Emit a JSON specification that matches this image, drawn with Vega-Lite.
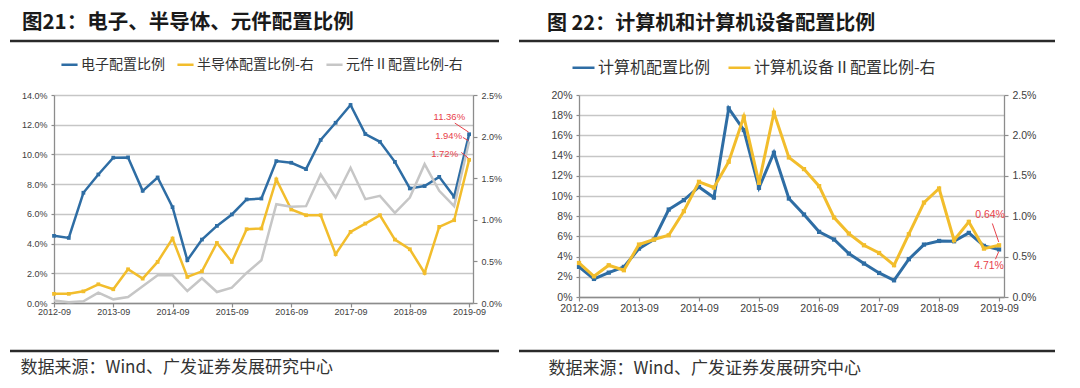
{
  "$schema": "https://vega.github.io/schema/vega-lite/v6.json",
  "background": "white",
  "padding": {"left": 8, "top": 13, "right": 0, "bottom": 0},
  "spacing": 20,
  "bounds": "flush",
  "resolve": {"scale": {"color": "independent"}},
  "datasets": {
    "left": [
      {"d": "2012/09/01", "e": 4.52, "s": 0.11, "c": 0.03},
      {"d": "2012/12/01", "e": 4.38, "s": 0.11, "c": 0.01},
      {"d": "2013/03/01", "e": 7.42, "s": 0.14, "c": 0.02},
      {"d": "2013/06/01", "e": 8.65, "s": 0.225, "c": 0.124},
      {"d": "2013/09/01", "e": 9.78, "s": 0.165, "c": 0.044},
      {"d": "2013/12/01", "e": 9.8, "s": 0.405, "c": 0.072},
      {"d": "2014/03/01", "e": 7.55, "s": 0.293, "c": 0.2},
      {"d": "2014/06/01", "e": 8.45, "s": 0.494, "c": 0.333},
      {"d": "2014/09/01", "e": 6.45, "s": 0.775, "c": 0.333},
      {"d": "2014/12/01", "e": 2.88, "s": 0.313, "c": 0.144},
      {"d": "2015/03/01", "e": 4.27, "s": 0.381, "c": 0.297},
      {"d": "2015/06/01", "e": 5.19, "s": 0.722, "c": 0.132},
      {"d": "2015/09/01", "e": 5.96, "s": 0.494, "c": 0.185},
      {"d": "2015/12/01", "e": 6.97, "s": 0.887, "c": 0.361},
      {"d": "2016/03/01", "e": 7.03, "s": 0.895, "c": 0.514},
      {"d": "2016/06/01", "e": 9.55, "s": 1.485, "c": 1.188},
      {"d": "2016/09/01", "e": 9.44, "s": 1.124, "c": 1.156},
      {"d": "2016/12/01", "e": 9.01, "s": 1.055, "c": 1.164},
      {"d": "2017/03/01", "e": 10.97, "s": 1.055, "c": 1.545},
      {"d": "2017/06/01", "e": 12.13, "s": 0.586, "c": 1.268},
      {"d": "2017/09/01", "e": 13.33, "s": 0.855, "c": 1.625},
      {"d": "2017/12/01", "e": 11.37, "s": 0.955, "c": 1.248},
      {"d": "2018/03/01", "e": 10.85, "s": 1.055, "c": 1.288},
      {"d": "2018/06/01", "e": 9.5, "s": 0.762, "c": 1.083},
      {"d": "2018/09/01", "e": 7.71, "s": 0.646, "c": 1.268},
      {"d": "2018/12/01", "e": 7.87, "s": 0.361, "c": 1.669},
      {"d": "2019/03/01", "e": 8.49, "s": 0.915, "c": 1.348},
      {"d": "2019/06/01", "e": 7.15, "s": 0.995, "c": 1.164},
      {"d": "2019/09/01", "e": 11.36, "s": 1.72, "c": 1.94}
    ],
    "right": [
      {"d": "2012/09/01", "p": 2.98, "q": 0.421},
      {"d": "2012/12/01", "p": 1.79, "q": 0.256},
      {"d": "2013/03/01", "p": 2.41, "q": 0.393},
      {"d": "2013/06/01", "p": 2.98, "q": 0.331},
      {"d": "2013/09/01", "p": 4.79, "q": 0.649},
      {"d": "2013/12/01", "p": 5.69, "q": 0.711},
      {"d": "2014/03/01", "p": 8.66, "q": 0.764},
      {"d": "2014/06/01", "p": 9.59, "q": 1.062},
      {"d": "2014/09/01", "p": 10.9, "q": 1.426},
      {"d": "2014/12/01", "p": 9.85, "q": 1.355},
      {"d": "2015/03/01", "p": 18.68, "q": 1.674},
      {"d": "2015/06/01", "p": 16.53, "q": 2.231},
      {"d": "2015/09/01", "p": 10.81, "q": 1.413},
      {"d": "2015/12/01", "p": 14.28, "q": 2.281},
      {"d": "2016/03/01", "p": 9.75, "q": 1.727},
      {"d": "2016/06/01", "p": 8.17, "q": 1.583},
      {"d": "2016/09/01", "p": 6.45, "q": 1.372},
      {"d": "2016/12/01", "p": 5.69, "q": 0.983},
      {"d": "2017/03/01", "p": 4.3, "q": 0.785},
      {"d": "2017/06/01", "p": 3.31, "q": 0.64},
      {"d": "2017/09/01", "p": 2.38, "q": 0.545},
      {"d": "2017/12/01", "p": 1.65, "q": 0.393},
      {"d": "2018/03/01", "p": 3.74, "q": 0.777},
      {"d": "2018/06/01", "p": 5.19, "q": 1.169},
      {"d": "2018/09/01", "p": 5.55, "q": 1.343},
      {"d": "2018/12/01", "p": 5.52, "q": 0.702},
      {"d": "2019/03/01", "p": 6.35, "q": 0.93},
      {"d": "2019/06/01", "p": 5.06, "q": 0.599},
      {"d": "2019/09/01", "p": 4.71, "q": 0.64}
    ],
    "notes": [
      {"label": "11.36%", "d": "2019/09/01", "v": 11.36},
      {"label": "1.94%", "d": "2019/09/01", "v": 1.94},
      {"label": "1.72%", "d": "2019/09/01", "v": 1.72},
      {"label": "0.64%", "d": "2019/09/01", "v": 0.64},
      {"label": "4.71%", "d": "2019/09/01", "v": 4.71}
    ]
  },
  "hconcat": [
    {
      "width": 489,
      "height": 310,
      "title": {"text": "图21：电子、半导体、元件配置比例", "anchor": "start", "frame": "group", "dx": 12, "offset": -14, "baseline": "bottom", "fontSize": 20.5, "font": "Noto Sans CJK SC", "fontWeight": "bold", "color": "#1a1a1a"},
      "data": {"name": "left"},
      "layer": [
        {
          "layer": [
            {
              "mark": {"type": "line", "strokeWidth": 2.5, "point": {"filled": true, "shape": "square", "size": 14}},
              "encoding": {
                "x": {"field": "d", "type": "temporal",
                  "scale": {"domain": [{"year": 2012, "month": 9, "date": 1}, {"year": 2019, "month": 9, "date": 25}], "range": [44, 463]},
                  "axis": {"values": [{"year": 2012, "month": 9, "date": 1}, {"year": 2013, "month": 9, "date": 1}, {"year": 2014, "month": 9, "date": 1}, {"year": 2015, "month": 9, "date": 1}, {"year": 2016, "month": 9, "date": 1}, {"year": 2017, "month": 9, "date": 1}, {"year": 2018, "month": 9, "date": 1}, {"year": 2019, "month": 9, "date": 1}],
                    "tickCount": 20, "format": "%Y-%m", "offset": -48, "grid": false, "labelFontSize": 9, "tickSize": 4, "labelPadding": 0, "labelFlush": false, "labelOverlap": false,
                    "title": "数据来源：Wind、广发证券发展研究中心", "titleFont": "Noto Sans CJK SC", "titleFontSize": 17, "titleFontWeight": "normal", "titleColor": "#333333", "titleAnchor": "start", "titleAlign": "left", "titleBaseline": "middle", "titleX": 10, "titleY": 64, "titleLimit": 1000}},
                "y": {"field": "e", "type": "quantitative",
                  "scale": {"domain": [0, 14], "range": [262, 54], "nice": false},
                  "axis": {"orient": "left", "offset": -44, "values": [0, 2, 4, 6, 8, 10, 12, 14], "tickCount": 20, "labelExpr": "format(datum.value, '.1f') + '%'", "grid": true, "title": null, "tickSize": 3, "labelPadding": 4, "labelOverlap": false}},
                "color": {"datum": "电子配置比例", "type": "nominal",
                  "scale": {"domain": ["电子配置比例", "半导体配置比例-右", "元件Ⅱ配置比例-右"], "range": ["#2E6DA4", "#F2BD2C", "#C6C6C6"]},
                  "legend": {"orient": "none", "legendX": 50, "legendY": 14, "direction": "horizontal", "title": null, "symbolType": "stroke", "symbolSize": 260, "symbolStrokeWidth": 2.5, "labelFont": "Noto Sans CJK SC", "labelFontSize": 14, "labelColor": "#333333", "labelOffset": 2, "columnPadding": 7, "labelLimit": 300}}
              }
            },
            {
              "data": {"name": "notes"},
              "transform": [{"filter": "datum.label === '11.36%'"}],
              "mark": {"type": "text", "align": "right", "baseline": "middle", "dx": -4, "dy": -17, "fontSize": 9.5, "font": "Liberation Sans", "color": "#E8424A"},
              "encoding": {"x": {"field": "d", "type": "temporal"}, "y": {"field": "v", "type": "quantitative"}, "text": {"field": "label"}}
            },
            {
              "data": {"values": [{}]},
              "mark": {"type": "rule", "color": "#E8424A", "strokeWidth": 1},
              "encoding": {"x": {"datum": {"year": 2019, "month": 6, "date": 5}, "type": "temporal"}, "x2": {"datum": {"year": 2019, "month": 8, "date": 29}}, "y": {"datum": 12.11, "type": "quantitative"}, "y2": {"datum": 11.5}}
            }
          ]
        },
        {
          "layer": [
            {
              "mark": {"type": "line", "strokeWidth": 2.5, "point": {"filled": true, "shape": "square", "size": 14}},
              "encoding": {
                "x": {"field": "d", "type": "temporal"},
                "y": {"field": "s", "type": "quantitative",
                  "scale": {"domain": [0, 2.5], "range": [262, 54], "nice": false},
                  "axis": {"orient": "right", "offset": -26, "values": [0, 0.5, 1, 1.5, 2, 2.5], "tickCount": 20, "labelExpr": "format(datum.value, '.1f') + '%'", "grid": false, "title": null, "tickSize": 4, "labelPadding": 4, "labelOverlap": false}},
                "color": {"datum": "半导体配置比例-右", "type": "nominal"}
              }
            },
            {
              "mark": {"type": "line", "strokeWidth": 2.5},
              "encoding": {
                "x": {"field": "d", "type": "temporal"},
                "y": {"field": "c", "type": "quantitative"},
                "color": {"datum": "元件Ⅱ配置比例-右", "type": "nominal"}
              }
            },
            {
              "data": {"name": "notes"},
              "transform": [{"filter": "datum.label === '1.94%'"}],
              "mark": {"type": "text", "align": "right", "baseline": "middle", "dx": -7, "dy": -6, "fontSize": 9.5, "font": "Liberation Sans", "color": "#E8424A"},
              "encoding": {"x": {"field": "d", "type": "temporal"}, "y": {"field": "v", "type": "quantitative"}, "text": {"field": "label"}}
            },
            {
              "data": {"name": "notes"},
              "transform": [{"filter": "datum.label === '1.72%'"}],
              "mark": {"type": "text", "align": "right", "baseline": "middle", "dx": -11, "dy": -6, "fontSize": 9.5, "font": "Liberation Sans", "color": "#E8424A"},
              "encoding": {"x": {"field": "d", "type": "temporal"}, "y": {"field": "v", "type": "quantitative"}, "text": {"field": "label"}}
            },
            {
              "data": {"values": [{}]},
              "mark": {"type": "rule", "color": "#E8424A", "strokeWidth": 1},
              "encoding": {"x": {"datum": {"year": 2019, "month": 7, "date": 25}, "type": "temporal"}, "x2": {"datum": {"year": 2019, "month": 8, "date": 28}}, "y": {"datum": 1.99, "type": "quantitative"}, "y2": {"datum": 1.95}}
            },
            {
              "data": {"values": [{}]},
              "mark": {"type": "rule", "color": "#E8424A", "strokeWidth": 1},
              "encoding": {"x": {"datum": {"year": 2019, "month": 7, "date": 15}, "type": "temporal"}, "x2": {"datum": {"year": 2019, "month": 8, "date": 28}}, "y": {"datum": 1.81, "type": "quantitative"}, "y2": {"datum": 1.74}}
            }
          ]
        },
        {
          "layer": [
            {
              "data": {"values": [{}]},
              "mark": {"type": "rule", "color": "#2a2a2a", "strokeWidth": 2.5},
              "encoding": {"y": {"datum": 1, "type": "quantitative", "scale": {"domain": [0, 1]}, "axis": null}}
            },
            {
              "data": {"values": [{}]},
              "mark": {"type": "rule", "color": "#2a2a2a", "strokeWidth": 2.5},
              "encoding": {"y": {"datum": 0, "type": "quantitative", "axis": null}}
            }
          ]
        }
      ],
      "resolve": {"scale": {"y": "independent"}, "axis": {"y": "independent"}}
    },
    {
      "width": 536,
      "height": 310,
      "title": {"text": "图 22：计算机和计算机设备配置比例", "anchor": "start", "frame": "group", "dx": 28, "offset": -14, "baseline": "bottom", "fontSize": 20, "font": "Noto Sans CJK SC", "fontWeight": "bold", "color": "#1a1a1a"},
      "data": {"name": "right"},
      "layer": [
        {
          "layer": [
            {
              "mark": {"type": "line", "strokeWidth": 3, "point": {"filled": true, "shape": "square", "size": 18}},
              "encoding": {
                "x": {"field": "d", "type": "temporal",
                  "scale": {"domain": [{"year": 2012, "month": 9, "date": 1}, {"year": 2019, "month": 10, "date": 1}], "range": [60, 485]},
                  "axis": {"values": [{"year": 2012, "month": 9, "date": 1}, {"year": 2013, "month": 9, "date": 1}, {"year": 2014, "month": 9, "date": 1}, {"year": 2015, "month": 9, "date": 1}, {"year": 2016, "month": 9, "date": 1}, {"year": 2017, "month": 9, "date": 1}, {"year": 2018, "month": 9, "date": 1}, {"year": 2019, "month": 9, "date": 1}],
                    "tickCount": 20, "format": "%Y-%m", "offset": -54, "grid": false, "labelFontSize": 10.5, "tickSize": 4, "labelPadding": 2, "labelFlush": false, "labelOverlap": false,
                    "title": "数据来源：Wind、广发证券发展研究中心", "titleFont": "Noto Sans CJK SC", "titleFontSize": 17, "titleFontWeight": "normal", "titleColor": "#333333", "titleAnchor": "start", "titleAlign": "left", "titleBaseline": "middle", "titleX": 29, "titleY": 71, "titleLimit": 1000}},
                "y": {"field": "p", "type": "quantitative",
                  "scale": {"domain": [0, 20], "range": [256, 54], "nice": false},
                  "axis": {"orient": "left", "offset": -60, "values": [0, 2, 4, 6, 8, 10, 12, 14, 16, 18, 20], "tickCount": 20, "labelExpr": "format(datum.value, 'd') + '%'", "grid": true, "title": null, "tickSize": 3, "labelPadding": 4, "labelFontSize": 10.5, "labelOverlap": false}},
                "color": {"datum": "计算机配置比例", "type": "nominal",
                  "scale": {"domain": ["计算机配置比例", "计算机设备Ⅱ配置比例-右"], "range": ["#2E6DA4", "#F2BD2C"]},
                  "legend": {"orient": "none", "legendX": 52, "legendY": 14, "direction": "horizontal", "title": null, "symbolType": "stroke", "symbolSize": 484, "symbolStrokeWidth": 2.5, "labelFont": "Noto Sans CJK SC", "labelFontSize": 16, "labelColor": "#333333", "labelOffset": 2, "columnPadding": 12, "labelLimit": 300}}
              }
            },
            {
              "data": {"name": "notes"},
              "transform": [{"filter": "datum.label === '4.71%'"}],
              "mark": {"type": "text", "align": "center", "baseline": "middle", "dx": -10, "dy": 17, "fontSize": 10.5, "font": "Liberation Sans", "color": "#E8424A"},
              "encoding": {"x": {"field": "d", "type": "temporal"}, "y": {"field": "v", "type": "quantitative"}, "text": {"field": "label"}}
            },
            {
              "data": {"values": [{}]},
              "mark": {"type": "rule", "color": "#E8424A", "strokeWidth": 1},
              "encoding": {"x": {"datum": {"year": 2019, "month": 8, "date": 10}, "type": "temporal"}, "x2": {"datum": {"year": 2019, "month": 8, "date": 30}}, "y": {"datum": 3.74, "type": "quantitative"}, "y2": {"datum": 4.5}}
            }
          ]
        },
        {
          "layer": [
            {
              "mark": {"type": "line", "strokeWidth": 3, "point": {"filled": true, "shape": "square", "size": 18}},
              "encoding": {
                "x": {"field": "d", "type": "temporal"},
                "y": {"field": "q", "type": "quantitative",
                  "scale": {"domain": [0, 2.5], "range": [256, 54], "nice": false},
                  "axis": {"orient": "right", "offset": -51, "values": [0, 0.5, 1, 1.5, 2, 2.5], "tickCount": 20, "labelExpr": "format(datum.value, '.1f') + '%'", "grid": false, "title": null, "tickSize": 4, "labelPadding": 4, "labelFontSize": 10.5, "labelOverlap": false}},
                "color": {"datum": "计算机设备Ⅱ配置比例-右", "type": "nominal"}
              }
            },
            {
              "data": {"name": "notes"},
              "transform": [{"filter": "datum.label === '0.64%'"}],
              "mark": {"type": "text", "align": "center", "baseline": "middle", "dx": -9, "dy": -30, "fontSize": 10.5, "font": "Liberation Sans", "color": "#E8424A"},
              "encoding": {"x": {"field": "d", "type": "temporal"}, "y": {"field": "v", "type": "quantitative"}, "text": {"field": "label"}}
            },
            {
              "data": {"values": [{}]},
              "mark": {"type": "rule", "color": "#E8424A", "strokeWidth": 1},
              "encoding": {"x": {"datum": {"year": 2019, "month": 7, "date": 22}, "type": "temporal"}, "x2": {"datum": {"year": 2019, "month": 8, "date": 30}}, "y": {"datum": 0.91, "type": "quantitative"}, "y2": {"datum": 0.68}}
            }
          ]
        },
        {
          "layer": [
            {
              "data": {"values": [{}]},
              "mark": {"type": "rule", "color": "#2a2a2a", "strokeWidth": 2.5},
              "encoding": {"y": {"datum": 1, "type": "quantitative", "scale": {"domain": [0, 1]}, "axis": null}}
            },
            {
              "data": {"values": [{}]},
              "mark": {"type": "rule", "color": "#2a2a2a", "strokeWidth": 2.5},
              "encoding": {"y": {"datum": 0, "type": "quantitative", "axis": null}}
            }
          ]
        }
      ],
      "resolve": {"scale": {"y": "independent"}, "axis": {"y": "independent"}}
    }
  ],
  "config": {
    "view": {"stroke": null},
    "axis": {"labelFont": "Liberation Sans", "labelColor": "#404040", "domainColor": "#8c8c8c", "domainWidth": 1.3, "tickColor": "#8c8c8c", "tickWidth": 1.2, "gridColor": "#C6C6C6", "gridWidth": 1.4, "labelFontSize": 9}
  }
}
